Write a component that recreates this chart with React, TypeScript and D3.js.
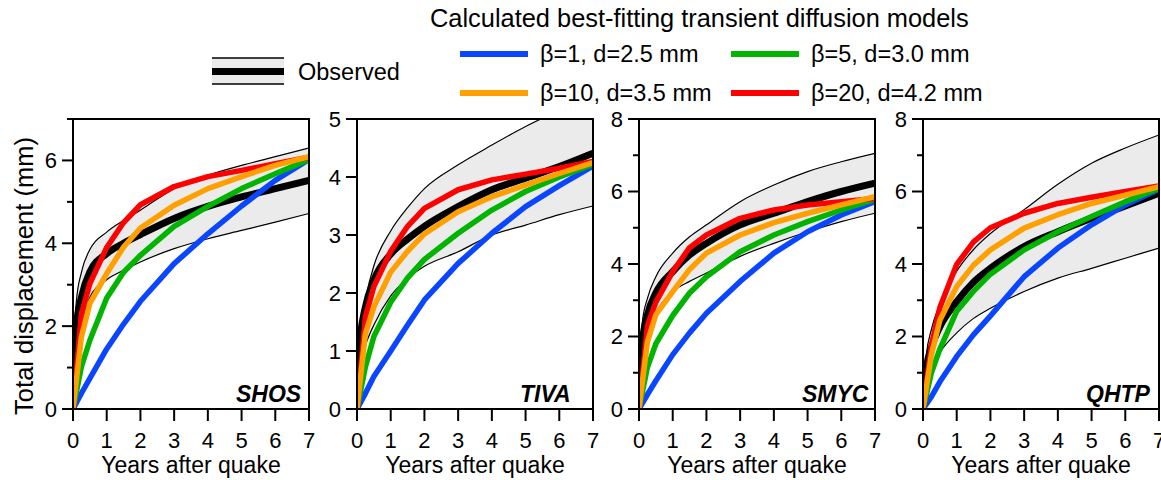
import React from "react";
import * as d3 from "d3";

// ---------- data ----------
const stations = ["SHOS", "TIVA", "SMYC", "QHTP"];
const yMaxes = [7, 5, 8, 8];
const modelT = [0, 0.25, 0.5, 1, 1.5, 2, 3, 4, 5, 6, 7];
const obsT = [0, 0.05, 0.1, 0.25, 0.5, 1, 1.5, 2, 3, 4, 5, 6, 7];
const xTicks = [0, 1, 2, 3, 4, 5, 6, 7];

const modelNames = ["β=1, d=2.5 mm", "β=5, d=3.0 mm", "β=10, d=3.5 mm", "β=20, d=4.2 mm"];
const modelColors = ["#0a46ff", "#00b400", "#ffa000", "#ff0000"];

// SHOS
const shosB1 = [0, 0.38, 0.74, 1.45, 2.05, 2.6, 3.51, 4.23, 4.9, 5.52, 6.02];
const shosB5 = [0, 1.02, 1.66, 2.68, 3.3, 3.71, 4.41, 4.89, 5.32, 5.68, 6.02];
const shosB10 = [0, 1.74, 2.55, 3.27, 3.91, 4.37, 4.92, 5.32, 5.61, 5.88, 6.09];
const shosB20 = [0, 2.3, 3.03, 3.9, 4.5, 4.93, 5.37, 5.61, 5.76, 5.92, 6.08];
const shosObs = [0, 1.4, 2.0, 2.7, 3.31, 3.75, 4.0, 4.21, 4.6, 4.89, 5.12, 5.32, 5.52];
const shosHi = [0, 1.9, 2.6, 3.3, 3.85, 4.27, 4.55, 4.8, 5.32, 5.64, 5.88, 6.09, 6.3];
const shosLo = [0, 1.0, 1.5, 2.05, 2.7, 3.12, 3.35, 3.55, 3.87, 4.11, 4.31, 4.51, 4.72];

// TIVA
const tivaB1 = [0, 0.27, 0.56, 1.0, 1.45, 1.88, 2.51, 3.03, 3.49, 3.85, 4.19];
const tivaB5 = [0, 0.73, 1.25, 1.84, 2.26, 2.58, 3.03, 3.43, 3.75, 4.0, 4.22];
const tivaB10 = [0, 1.3, 1.76, 2.36, 2.72, 3.02, 3.4, 3.66, 3.86, 4.06, 4.25];
const tivaB20 = [0, 1.59, 2.11, 2.72, 3.15, 3.46, 3.78, 3.95, 4.05, 4.15, 4.27];
const tivaObs = [0, 0.9, 1.25, 1.76, 2.22, 2.67, 2.93, 3.15, 3.49, 3.78, 3.98, 4.18, 4.41];
const tivaHi = [0, 1.1, 1.45, 1.9, 2.47, 3.07, 3.47, 3.8, 4.21, 4.55, 4.87, 5.15, 5.4];
const tivaLo = [0, 0.55, 0.8, 1.1, 1.45, 1.95, 2.25, 2.46, 2.71, 3.0, 3.17, 3.35, 3.5];

// SMYC
const smycB1 = [0, 0.4, 0.78, 1.5, 2.1, 2.64, 3.52, 4.3, 4.89, 5.35, 5.72];
const smycB5 = [0, 1.15, 1.8, 2.58, 3.2, 3.65, 4.34, 4.8, 5.17, 5.49, 5.78];
const smycB10 = [0, 1.85, 2.6, 3.24, 3.85, 4.3, 4.8, 5.14, 5.4, 5.63, 5.86];
const smycB20 = [0, 2.3, 2.95, 3.79, 4.45, 4.8, 5.26, 5.49, 5.63, 5.72, 5.81];
const smycObs = [0, 1.3, 1.85, 2.6, 3.2, 3.79, 4.25, 4.57, 5.08, 5.4, 5.72, 6.0, 6.23];
const smycHi = [0, 1.7, 2.4, 3.05, 3.65, 4.3, 4.75, 5.08, 5.72, 6.18, 6.55, 6.82, 7.05];
const smycLo = [0, 0.9, 1.35, 2.0, 2.64, 3.24, 3.52, 3.75, 4.21, 4.57, 4.89, 5.17, 5.4];

// QHTP
const qhtpB1 = [0, 0.34, 0.75, 1.45, 2.05, 2.57, 3.65, 4.44, 5.08, 5.63, 6.06];
const qhtpB5 = [0, 1.0, 1.65, 2.7, 3.25, 3.72, 4.39, 4.89, 5.31, 5.72, 6.09];
const qhtpB10 = [0, 1.5, 2.45, 3.38, 3.97, 4.39, 4.99, 5.36, 5.67, 5.9, 6.13];
const qhtpB20 = [0, 1.75, 2.8, 3.99, 4.61, 5.0, 5.4, 5.67, 5.84, 6.0, 6.15];
const qhtpObs = [0, 0.8, 1.15, 1.7, 2.27, 2.96, 3.5, 3.88, 4.48, 4.89, 5.26, 5.6, 5.95];
const qhtpHi = [0, 1.0, 1.5, 2.2, 2.9, 3.8, 4.4, 4.84, 5.5, 6.2, 6.78, 7.2, 7.56];
const qhtpLo = [0, 0.55, 0.8, 1.1, 1.55, 2.1, 2.5, 2.78, 3.24, 3.61, 3.88, 4.16, 4.44];

const models = [
  [shosB1, shosB5, shosB10, shosB20],
  [tivaB1, tivaB5, tivaB10, tivaB20],
  [smycB1, smycB5, smycB10, smycB20],
  [qhtpB1, qhtpB5, qhtpB10, qhtpB20],
];
const observed = [shosObs, tivaObs, smycObs, qhtpObs];
const bandHi = [shosHi, tivaHi, smycHi, qhtpHi];
const bandLo = [shosLo, tivaLo, smycLo, qhtpLo];

// ---------- layout ----------
const W = 1161;
const H = 480;
const panelLefts = [73, 357, 639, 923];
const panelW = 236;
const top = 119;
const bottom = 409;
const FONT = "'Liberation Sans', Arial, Helvetica, sans-serif";
const drawOrder = [0, 1, 3, 2];

function Panel({ idx }: { idx: number }) {
  const left = panelLefts[idx];
  const x = d3.scaleLinear().domain([0, 7]).range([left, left + panelW]);
  const yMax = yMaxes[idx];
  const y = d3.scaleLinear().domain([0, yMax]).range([bottom, top]);
  const step = yMax > 6 ? 2 : 1;
  const yTicks = d3.range(0, yMax + 0.001, 1);
  const line = d3
    .line<[number, number]>()
    .x((d) => x(d[0]))
    .y((d) => y(d[1]));
  const smooth = d3
    .line<[number, number]>()
    .x((d) => x(d[0]))
    .y((d) => y(d[1]))
    .curve(d3.curveMonotoneX);
  const area = d3
    .area<number>()
    .x((_, i) => x(obsT[i]))
    .y0((_, i) => y(bandLo[idx][i]))
    .y1((_, i) => y(bandHi[idx][i]))
    .curve(d3.curveMonotoneX);
  const clipId = `clip${idx}`;
  const pts = (vals: number[], ts: number[]) => ts.map((t, i) => [t, vals[i]] as [number, number]);
  return (
    <g>
      <defs>
        <clipPath id={clipId}>
          <rect x={left} y={top} width={panelW} height={bottom - top} />
        </clipPath>
      </defs>
      <g clipPath={`url(#${clipId})`}>
        <path d={area(obsT) || ""} fill="#ebebeb" stroke="none" />
        <path d={smooth(pts(bandHi[idx], obsT)) || ""} fill="none" stroke="#000" strokeWidth={1.2} />
        <path d={smooth(pts(bandLo[idx], obsT)) || ""} fill="none" stroke="#000" strokeWidth={1.2} />
        <path d={smooth(pts(observed[idx], obsT)) || ""} fill="none" stroke="#000" strokeWidth={7} />
        {drawOrder.map((m) => (
          <path
            key={m}
            d={line(pts(models[idx][m], modelT)) || ""}
            fill="none"
            stroke={modelColors[m]}
            strokeWidth={5.5}
            strokeLinejoin="round"
          />
        ))}
      </g>
      <rect x={left} y={top} width={panelW} height={bottom - top} fill="none" stroke="#000" strokeWidth={2} />
      {yTicks.map((v) => {
        const major = v % step === 0;
        return (
          <g key={v}>
            <line x1={left - (major ? 11 : 6)} x2={left} y1={y(v)} y2={y(v)} stroke="#000" strokeWidth={2} />
            {major && (
              <text x={left - 16} y={y(v)} dy="0.36em" textAnchor="end" fontSize={22} fontFamily={FONT}>
                {v}
              </text>
            )}
          </g>
        );
      })}
      {xTicks.map((v) => (
        <g key={v}>
          <line x1={x(v)} x2={x(v)} y1={bottom} y2={bottom + 12} stroke="#000" strokeWidth={2} />
          <text x={x(v)} y={448} textAnchor="middle" fontSize={22} fontFamily={FONT}>
            {v}
          </text>
        </g>
      ))}
      <text x={left + panelW / 2} y={473} textAnchor="middle" fontSize={23} fontFamily={FONT}>
        Years after quake
      </text>
      <text x={left + 163} y={402} fontSize={23} fontWeight="bold" fontStyle="italic" fontFamily={FONT}>
        {stations[idx]}
      </text>
    </g>
  );
}

export default function App() {
  const legendRows = [
    { m: 0, x: 460, y: 54 },
    { m: 1, x: 731, y: 54 },
    { m: 2, x: 460, y: 93 },
    { m: 3, x: 731, y: 93 },
  ];
  return (
    <svg width={W} height={H} style={{ position: "absolute", left: 0, top: 0 }}>
      <rect x={0} y={0} width={W} height={H} fill="#fff" />
      {stations.map((_, i) => (
        <Panel key={i} idx={i} />
      ))}
      <text
        transform="translate(33,276) rotate(-90)"
        textAnchor="middle"
        fontSize={25.5}
        fontFamily={FONT}
      >
        Total displacement (mm)
      </text>
      {/* legend: observed */}
      <rect x={212} y={58} width={72} height={26} fill="#ebebeb" />
      <line x1={212} x2={284} y1={58} y2={58} stroke="#000" strokeWidth={1.5} />
      <line x1={212} x2={284} y1={84} y2={84} stroke="#000" strokeWidth={1.5} />
      <line x1={212} x2={284} y1={71.5} y2={71.5} stroke="#000" strokeWidth={7} />
      <text x={298} y={80} fontSize={23.5} fontFamily={FONT}>
        Observed
      </text>
      <text x={430} y={27} fontSize={25.4} fontFamily={FONT}>
        Calculated best-fitting transient diffusion models
      </text>
      {legendRows.map((r) => (
        <g key={r.m}>
          <line x1={r.x} x2={r.x + 68} y1={r.y} y2={r.y} stroke={modelColors[r.m]} strokeWidth={6} />
          <text x={r.x + 80} y={r.y + 8} fontSize={23.5} fontFamily={FONT}>
            {modelNames[r.m]}
          </text>
        </g>
      ))}
    </svg>
  );
}
